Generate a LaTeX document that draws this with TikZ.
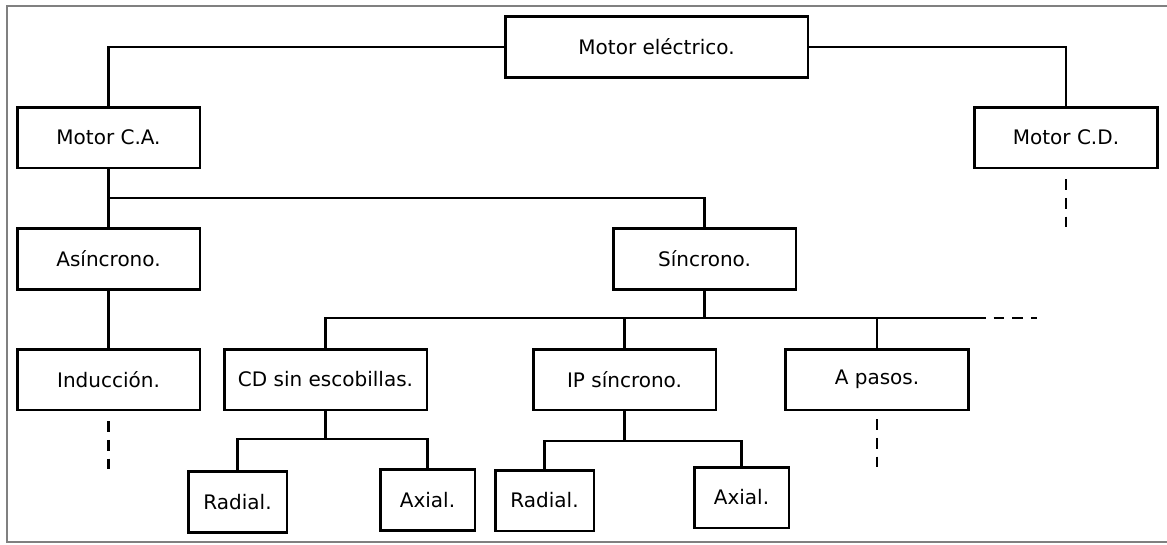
\documentclass[tikz,border=0pt]{standalone}
\usepackage{fontspec}
\setmainfont{DejaVu Sans}
\usepackage{tikz}
\usetikzlibrary{calc}

\tikzset{caja/.style={draw,rectangle,line width=2pt,minimum height=45.5pt,inner sep=0pt,font=\fontsize{15}{18}\selectfont},
	linea/.style={line width=2pt},
	puntos/.style={line width=2pt,dash pattern=on 8pt off 6pt}}

\begin{document}
\begin{tikzpicture}[x=0.75pt,y=-0.75pt]
			\useasboundingbox (0,0) rectangle (1167,544);
			\draw[gray,line width=1.2pt] (1167,6) -- (7,6) -- (7,542) -- (1167,542);
			\node[caja,minimum width=227pt] (motor) at (656.5,47) {Motor eléctrico.};
			\node[caja,minimum width=137pt] (ca) at (108.5,137.5) {Motor C.A.};
			\node[caja,minimum width=137pt] (cd) at (1066,137.5) {Motor C.D.};
			\node[caja,minimum width=137pt] (asin) at (108.5,259) {Asíncrono.};
			\node[caja,minimum width=137pt] (sin) at (704.5,259) {Síncrono.};
			\node[caja,minimum width=137pt] (ind) at (108.5,379.5) {Inducción.};
			\node[caja,minimum width=152pt] (cdsin) at (325.5,379.5) {CD sin escobillas.};
			\node[caja,minimum width=137pt] (ip) at (624.5,379.5) {IP síncrono.};
			\node[caja,minimum width=137pt] (pasos) at (877,379.5) {A pasos.};
			\node[caja,minimum width=74pt] (rad1) at (237.5,502) {Radial.};
			\node[caja,minimum width=71pt] (ax1) at (427.5,500) {Axial.};
			\node[caja,minimum width=74pt] (rad2) at (544.5,500.5) {Radial.};
			\node[caja,minimum width=71pt] (ax2) at (741.5,497.5) {Axial.};
			\coordinate (j1) at (108.5,198);
			\coordinate (j2) at (975,318);
			\coordinate (j3) at (325.5,439);
			\coordinate (j4) at (624.5,441);
			\draw[linea] (motor.west) -| (ca.north);
			\draw[linea] (motor.east) -| (cd.north);
			\draw[linea] (ca.south) -- (asin.north);
			\draw[linea] (j1) -| (sin.north);
			\draw[linea] (asin.south) -- (ind.north);
			\draw[linea] (sin.south) -- (sin.south |- j2);
			\draw[linea] (cdsin.north) |- (j2);
			\draw[linea] (ip.north) -- (ip.north |- j2);
			\draw[linea] (pasos.north) -- (pasos.north |- j2);
			\draw[puntos] (j2) -- ++(62,0);
			\draw[linea] (cdsin.south) -- (j3);
			\draw[linea] (rad1.north) |- (j3) -| (ax1.north);
			\draw[linea] (ip.south) -- (j4);
			\draw[linea] (rad2.north) |- (j4) -| (ax2.north);
			\draw[puntos] ($(cd.south)+(0,10)$) -- ++(0,50);
			\draw[puntos] ($(ind.south)+(0,10)$) -- ++(0,50);
			\draw[puntos] ($(pasos.south)+(0,8)$) -- ++(0,52);
		\end{tikzpicture}
\end{document}
